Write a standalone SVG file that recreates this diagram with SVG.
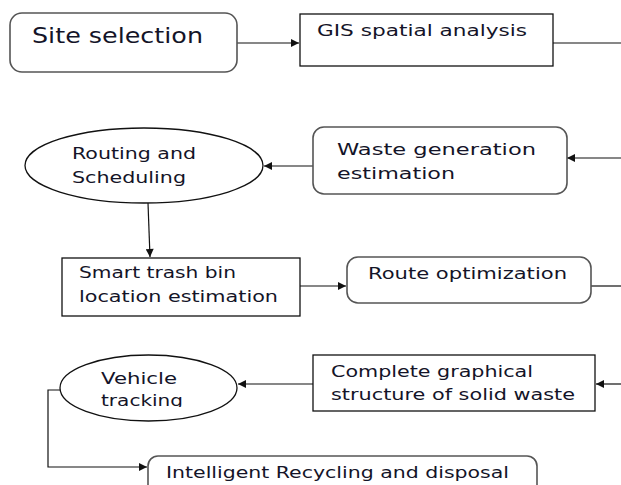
<svg xmlns="http://www.w3.org/2000/svg" width="621" height="485" viewBox="0 0 621 485">
<style>
  text { font-family: "DejaVu Sans", "Liberation Sans", Arial, sans-serif; fill: #141428; }
  .t15 { font-size: 15px; }
  .t16 { font-size: 16.5px; }
  .t20 { font-size: 22px; }
  .rnd { fill: #fff; stroke: #555; stroke-width: 1.6; }
  .sq { fill: #fff; stroke: #111; stroke-width: 1.3; }
  .conn { fill: none; stroke: #111; stroke-width: 1.2; }
</style>
<defs>
  <marker id="arr" viewBox="0 0 10 10" refX="10" refY="5" markerWidth="12" markerHeight="8" markerUnits="userSpaceOnUse" orient="auto">
    <path d="M0,0 L10,5 L0,10 z" fill="#111"/>
  </marker>
  <clipPath id="clipVeh">
    <rect x="0" y="0" width="621" height="407"/>
  </clipPath>
</defs>
<rect width="621" height="485" fill="#fff"/>

<g id="connectors">
  <line class="conn" x1="237" y1="43" x2="299" y2="43" marker-end="url(#arr)"/>
  <line class="conn" x1="553" y1="43" x2="621" y2="43"/>
  <line class="conn" x1="621" y1="158" x2="567" y2="158" marker-end="url(#arr)"/>
  <line class="conn" x1="313" y1="166" x2="264" y2="166" marker-end="url(#arr)"/>
  <line class="conn" x1="148" y1="203" x2="150" y2="257" marker-end="url(#arr)"/>
  <line class="conn" x1="300" y1="286" x2="346" y2="286" marker-end="url(#arr)"/>
  <line class="conn" x1="591" y1="286" x2="621" y2="286"/>
  <line class="conn" x1="621" y1="384" x2="596" y2="384" marker-end="url(#arr)"/>
  <line class="conn" x1="313" y1="384" x2="238" y2="384" marker-end="url(#arr)"/>
  <polyline class="conn" points="61,390 48,390 48,467 147,467" marker-end="url(#arr)"/>
</g>

<g id="site-selection">
  <rect class="rnd" x="10" y="13" width="227" height="59" rx="12"/>
  <text class="t20" x="32" y="43" textLength="171" lengthAdjust="spacingAndGlyphs">Site selection</text>
</g>

<g id="gis">
  <rect class="sq" x="300" y="14" width="253" height="52"/>
  <text class="t15" x="317" y="36" textLength="210" lengthAdjust="spacingAndGlyphs">GIS spatial analysis</text>
</g>

<g id="routing">
  <ellipse class="sq" cx="144" cy="165.5" rx="119" ry="37.5"/>
  <text class="t15" x="72" y="159" textLength="124" lengthAdjust="spacingAndGlyphs">Routing and</text>
  <text class="t15" x="72" y="183" textLength="114" lengthAdjust="spacingAndGlyphs">Scheduling</text>
</g>

<g id="waste-generation">
  <rect class="rnd" x="313" y="127" width="254" height="67" rx="11"/>
  <text class="t16" x="337" y="155" textLength="199" lengthAdjust="spacingAndGlyphs">Waste generation</text>
  <text class="t16" x="337" y="179" textLength="118" lengthAdjust="spacingAndGlyphs">estimation</text>
</g>

<g id="smart-bin">
  <rect class="sq" x="62" y="258" width="238" height="58"/>
  <text class="t15" x="79" y="278" textLength="157" lengthAdjust="spacingAndGlyphs">Smart trash bin</text>
  <text class="t15" x="79" y="302" textLength="199" lengthAdjust="spacingAndGlyphs">location estimation</text>
</g>

<g id="route-optimization">
  <rect class="rnd" x="347" y="257" width="244" height="46" rx="11"/>
  <text class="t15" x="368" y="279" textLength="199" lengthAdjust="spacingAndGlyphs">Route optimization</text>
</g>

<g id="vehicle-tracking">
  <ellipse class="sq" cx="148.5" cy="388" rx="88.5" ry="33" stroke="#444"/>
  <text class="t15" x="101" y="384" textLength="76" lengthAdjust="spacingAndGlyphs">Vehicle</text>
  <text class="t15" x="101" y="406" textLength="82" lengthAdjust="spacingAndGlyphs" clip-path="url(#clipVeh)">tracking</text>
</g>

<g id="graphical-structure">
  <rect class="sq" x="313" y="355" width="282" height="56"/>
  <text class="t15" x="331" y="377" textLength="202" lengthAdjust="spacingAndGlyphs">Complete graphical</text>
  <text class="t15" x="331" y="400" textLength="244" lengthAdjust="spacingAndGlyphs">structure of solid waste</text>
</g>

<g id="recycling">
  <rect class="rnd" x="148" y="456" width="389" height="50" rx="10"/>
  <text class="t15" x="166" y="478" textLength="343" lengthAdjust="spacingAndGlyphs">Intelligent Recycling and disposal</text>
</g>
</svg>
